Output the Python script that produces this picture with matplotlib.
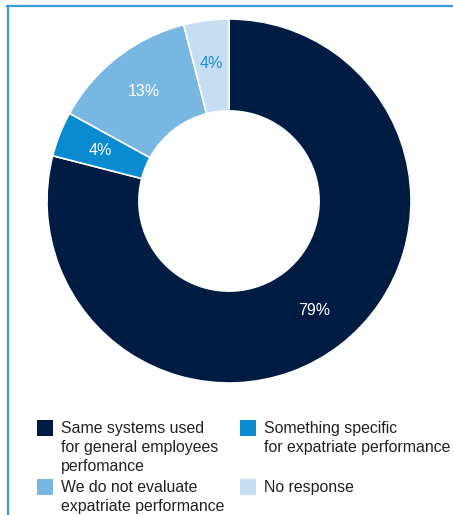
import matplotlib
matplotlib.use("Agg")
import matplotlib.pyplot as plt
import numpy as np
from matplotlib.patches import Rectangle
from matplotlib.lines import Line2D

plt.rcParams['font.family'] = ['Liberation Sans', 'DejaVu Sans']

categories = ["Same systems used\nfor general employees\nperfomance",
              "Something specific\nfor expatriate performance",
              "We do not evaluate\nexpatriate performance",
              "No response"]
shares = [79, 4, 13, 4]
colors = ["#001c43", "#0a8ad0", "#78b7e2", "#c7ddf1"]
label_colors = ["white", "white", "white", "#1f8fd3"]

W, H = 453, 515
fig = plt.figure(figsize=(W / 100, H / 100), dpi=100)

# border lines along top and left
frame = "#3d9ad8"
fig.add_artist(Line2D([7 / W, 1], [1 - 6 / H, 1 - 6 / H], color=frame, lw=1.6))
fig.add_artist(Line2D([8 / W, 8 / W], [0, 1 - 6 / H], color=frame, lw=1.6))

cx, cy, r = 229, 201, 182
ax = fig.add_axes([(cx - r) / W, (H - cy - r) / H, 2 * r / W, 2 * r / H])
wedges, _ = ax.pie(shares, colors=colors, startangle=90, counterclock=False,
                   radius=1, wedgeprops=dict(width=0.505, edgecolor="white", linewidth=1.2))
ax.set_xlim(-1, 1)
ax.set_ylim(-1, 1)
ax.set_aspect("equal")

start = 90
for val, lc in zip(shares, label_colors):
    mid = np.deg2rad(start - val * 3.6 / 2)
    rr = 0.76
    ax.text(rr * np.cos(mid), rr * np.sin(mid), f"{val}%", color=lc,
            ha="center", va="center", fontsize=11.5)
    start -= val * 3.6

# legend, two columns
pos = [(37, 420), (240, 420), (37, 479), (240, 479)]
for (px, py), name, col in zip(pos, categories, colors):
    fig.add_artist(Rectangle((px / W, 1 - (py + 16) / H), 16 / W, 16 / H,
                             transform=fig.transFigure, color=col, lw=0))
    fig.text((px + 24) / W, 1 - (py + 1) / H, name, ha="left", va="top",
             fontsize=11.4, color="#222222", linespacing=1.32)

fig.savefig("out.png", dpi=100)
